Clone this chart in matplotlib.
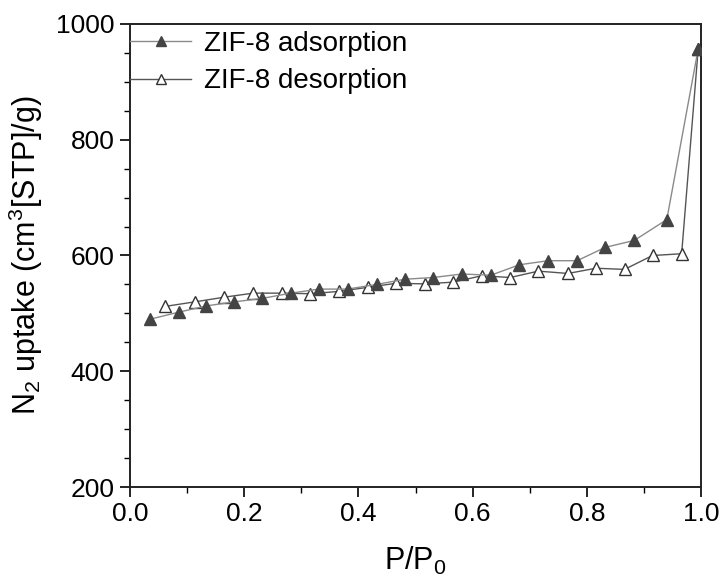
import matplotlib
matplotlib.use("Agg")
from matplotlib import pyplot as plt
from matplotlib.ticker import MultipleLocator

plt.rcParams["font.family"] = ["Liberation Sans", "DejaVu Sans"]
plt.rcParams["mathtext.default"] = "regular"

# N2 isotherm of ZIF-8
ads_p = [0.035, 0.085, 0.134, 0.183, 0.232, 0.282, 0.331, 0.381, 0.432, 0.481,
         0.531, 0.581, 0.632, 0.682, 0.732, 0.783, 0.832, 0.883, 0.940, 0.995]
ads_uptake = [490, 502, 513, 520, 526, 535, 542, 542, 550, 559,
              562, 568, 566, 584, 591, 591, 614, 626, 662, 957]

des_p = [0.995, 0.966, 0.915, 0.866, 0.816, 0.767, 0.715, 0.666, 0.616, 0.566,
         0.516, 0.466, 0.416, 0.366, 0.316, 0.266, 0.216, 0.165, 0.114, 0.061]
des_uptake = [957, 603, 600, 576, 578, 569, 573, 562, 565, 554,
              551, 552, 545, 538, 534, 535, 535, 528, 520, 512]

fig = plt.figure(figsize=(7.22, 5.82), dpi=100)
ax = fig.add_axes([0.180, 0.163, 0.791, 0.796])

ax.plot(des_p, des_uptake, color="#555555", lw=1.0, marker="^", ms=9,
        mfc="white", mec="#333333", mew=1.0, label="ZIF-8 desorption", zorder=2)
ax.plot(ads_p, ads_uptake, color="#8a8a8a", lw=1.0, marker="^", ms=9,
        mfc="#444444", mec="#444444", label="ZIF-8 adsorption", zorder=3)

ax.set_xlim(0.0, 1.0)
ax.set_ylim(200, 1000)
ax.xaxis.set_major_locator(MultipleLocator(0.2))
ax.xaxis.set_minor_locator(MultipleLocator(0.1))
ax.yaxis.set_major_locator(MultipleLocator(200))
ax.yaxis.set_minor_locator(MultipleLocator(50))
ax.xaxis.set_major_formatter(matplotlib.ticker.FormatStrFormatter("%.1f"))

ax.tick_params(which="major", direction="out", length=7, width=1.2, labelsize=19,
               top=False, right=False, pad=4)
ax.tick_params(which="minor", direction="out", length=4, width=1.0,
               top=False, right=False)
for s in ax.spines.values():
    s.set_linewidth(1.4)
    s.set_color("#222222")

ax.set_xlabel("P/P$_0$", fontsize=22, labelpad=13)
ax.set_ylabel("N$_2$ uptake (cm$^3$[STP]/g)", fontsize=22, labelpad=8)

handles, labels = ax.get_legend_handles_labels()
ax.legend(handles[::-1], labels[::-1], loc="upper left",
          bbox_to_anchor=(0.0, 0.985), frameon=False,
          fontsize=20, markerscale=0.75, handlelength=2.2, handletextpad=0.45,
          labelspacing=0.42, borderaxespad=0.0, borderpad=0.0)

fig.savefig("out.png", dpi=100)
